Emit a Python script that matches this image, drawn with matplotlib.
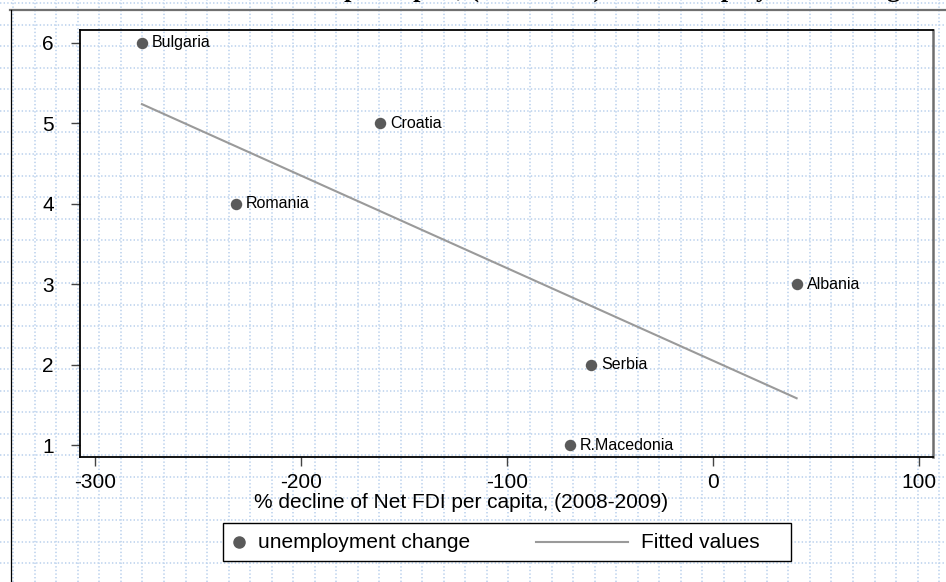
import numpy as np
import matplotlib
matplotlib.use('Agg')
import matplotlib.pyplot as plt
from matplotlib.lines import Line2D
from matplotlib.patches import Rectangle

# Data
countries = ['Bulgaria', 'Croatia', 'Romania', 'Albania', 'Serbia', 'R.Macedonia']
fdi_decline = [-277.2, -161.7, -231.6, 40.6, -59.2, -69.4]
unemp_change = [6, 5, 4, 3, 2, 1]
fit_x = [-277.2, 40.6]
fit_y = [5.24, 1.585]
xticks = [-300, -200, -100, 0, 100]
yticks = [1, 2, 3, 4, 5, 6]

W, H = 946, 582
plt.rcParams['font.family'] = ['Liberation Sans', 'DejaVu Sans']

fig = plt.figure(figsize=(W / 100, H / 100), dpi=100)
fig.patch.set_facecolor('white')


def px(x, y):
    """pixel position (from top-left) -> figure fraction"""
    return x / W, 1 - y / H


# Background notebook grid (dotted light blue)
grid_col = '#c3d7ef'
step = 21.53
for gx in np.arange(13.3, W, step):
    fig.add_artist(Line2D([gx / W, gx / W], [0, 1], color=grid_col, lw=1.3,
                          ls=(0, (0.77, 1.23)), zorder=-5))
for gy in np.arange(3.3, H, step):
    fig.add_artist(Line2D([0, 1], [1 - gy / H, 1 - gy / H], color=grid_col, lw=1.3,
                          ls=(0, (0.77, 1.23)), zorder=-5))

# Outer page frame
fig.add_artist(Line2D([10 / W, 1], [1 - 10 / H, 1 - 10 / H], color='#707070', lw=1.6, zorder=-1))
fig.add_artist(Line2D([10.5 / W, 10.5 / W], [0, 1 - 10 / H], color='black', lw=0.9, zorder=-1))

# Cut-off caption at the very top
fig.text(246 / W, 1 + 3.6 / H, 'Net FDI per capita, (2008-2009) and unemployment change',
         fontsize=19, fontweight='bold', family=['Liberation Serif', 'DejaVu Serif'],
         ha='left', va='baseline')

# Plot area
l, t, r, b = 79.5, 30, 933, 457
ax = fig.add_axes([l / W, 1 - b / H, (r - l) / W, (b - t) / H])
ax.set_facecolor('none')

ax.plot(fit_x, fit_y, color='#9a9a9a', lw=1.5, zorder=2)
ax.scatter(fdi_decline, unemp_change, s=68, color='#5a5a5a', zorder=3, linewidths=0)
for name, xv, yv in zip(countries, fdi_decline, unemp_change):
    ax.annotate(name, (xv, yv), xytext=(7.3, 0), textcoords='offset points',
                ha='left', va='center', fontsize=11.5, color='black')

ax.set_xlim(-307.5, 106.8)
ax.set_ylim(0.855, 6.161)
ax.set_xticks(xticks)
ax.set_yticks(yticks)
ax.set_xticklabels([str(v) for v in xticks])
ax.set_yticklabels([str(v) for v in yticks])
ax.tick_params(axis='both', labelsize=15, length=6.5, width=1.0, color='#444444')
ax.tick_params(axis='y', pad=12)
ax.tick_params(axis='x', pad=5)

for side in ['left', 'top', 'bottom']:
    ax.spines[side].set_color('black')
    ax.spines[side].set_linewidth(1.3)
ax.spines['right'].set_color('#6e6e6e')
ax.spines['right'].set_linewidth(1.8)

ax.set_xlabel('% decline of Net FDI per capita, (2008-2009)', fontsize=15)
ax.xaxis.set_label_coords((461 - l) / (r - l), -(503 - b) / (b - t))
ax.xaxis.label.set_va('center')

# Legend box below the plot
lx0, ly0, lx1, ly1 = 223, 523, 791, 561
fig.add_artist(Rectangle(px(lx0, ly1), (lx1 - lx0) / W, (ly1 - ly0) / H,
                         transform=fig.transFigure, fill=True, facecolor='white',
                         edgecolor='black', lw=1.0, zorder=1))
ym = 542
fig.add_artist(Line2D([238.5 / W], [1 - ym / H], marker='o', markersize=8,
                      color='#5a5a5a', ls='none', zorder=2))
fig.text(258 / W, 1 - ym / H, 'unemployment change', fontsize=15, ha='left', va='center', zorder=2)
fig.add_artist(Line2D([536 / W, 628 / W], [1 - ym / H, 1 - ym / H], color='#9a9a9a',
                      lw=1.5, zorder=2))
fig.text(641 / W, 1 - ym / H, 'Fitted values', fontsize=15, ha='left', va='center', zorder=2)

fig.savefig('out.png', dpi=100)
